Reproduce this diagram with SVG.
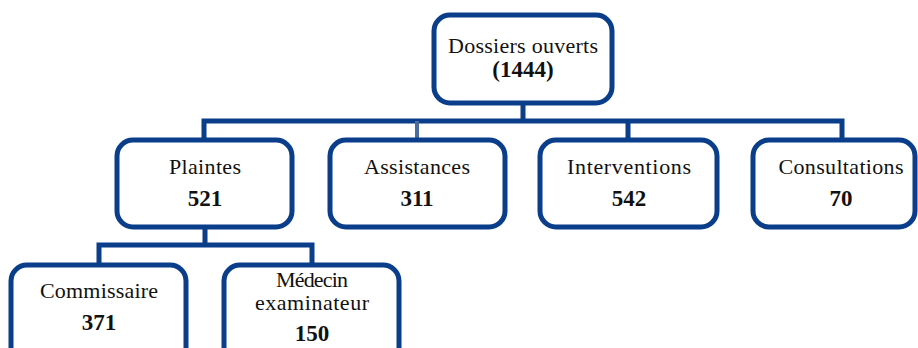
<svg xmlns="http://www.w3.org/2000/svg" width="918" height="348" viewBox="0 0 918 348">
<style>
.box{fill:#fff;stroke:#0a3d8a;stroke-width:5}
.ln{fill:none;stroke:#0a3d8a;stroke-width:5}
.t{font-family:"Liberation Serif",serif;font-size:22px;fill:#111;text-anchor:middle}
.b{font-weight:bold;font-size:23px}
</style>
<rect width="918" height="348" fill="#fff"/>
<g id="connectors">
<path class="ln" d="M523,104 V121 M204,138 V121 H842 V138 M628,121 V138"/>
<path d="M417,121 V138" fill="none" stroke="#4a6c9e" stroke-width="4"/>
<path class="ln" d="M205,228 V245 M99,263 V245 H312 V263"/>
</g>
<g id="n_dossiers">
<rect class="box" x="434" y="15" width="178" height="88" rx="16"/>
<text class="t" x="523" y="53" textLength="150">Dossiers ouverts</text>
<text class="t b" x="523" y="77">(1444)</text>
</g>
<g id="n_plaintes">
<rect class="box" x="117" y="140" width="175" height="87" rx="16"/>
<text class="t" x="205" y="174" textLength="72">Plaintes</text>
<text class="t b" x="205" y="206">521</text>
</g>
<g id="n_assistances">
<rect class="box" x="330" y="140" width="175" height="87" rx="16"/>
<text class="t" x="417" y="174" textLength="106">Assistances</text>
<text class="t b" x="417" y="206">311</text>
</g>
<g id="n_interventions">
<rect class="box" x="540" y="140" width="177" height="87" rx="16"/>
<text class="t" x="629" y="174" textLength="124">Interventions</text>
<text class="t b" x="629" y="206">542</text>
</g>
<g id="n_consultations">
<rect class="box" x="753" y="140" width="162" height="87" rx="16"/>
<text class="t" x="841" y="174" textLength="125">Consultations</text>
<text class="t b" x="841" y="206">70</text>
</g>
<g id="n_commissaire">
<rect class="box" x="11" y="265" width="175" height="100" rx="16"/>
<text class="t" x="99" y="298" textLength="118">Commissaire</text>
<text class="t b" x="99" y="330">371</text>
</g>
<g id="n_medecin">
<rect class="box" x="224" y="265" width="175" height="100" rx="16"/>
<text class="t" x="312" y="287" textLength="72">Médecin</text>
<text class="t" x="312" y="310" textLength="114">examinateur</text>
<text class="t b" x="312" y="341">150</text>
</g>
</svg>
